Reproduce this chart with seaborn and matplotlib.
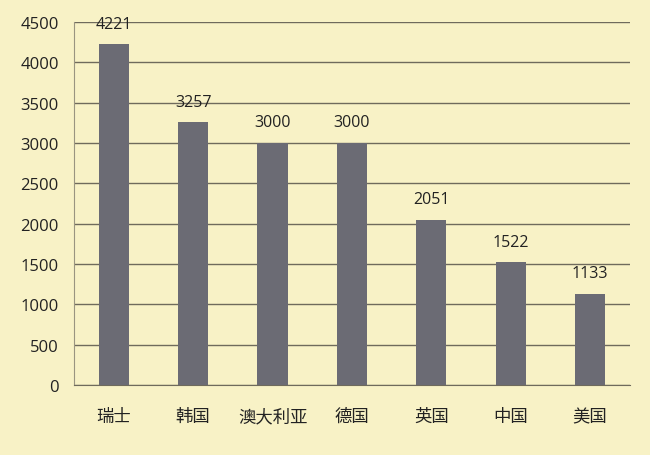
import numpy as np
import pandas as pd
import matplotlib
matplotlib.use("Agg")
import matplotlib.pyplot as plt
import seaborn as sns

countries = ["瑞士", "韩国", "澳大利亚", "德国", "英国", "中国", "美国"]
values = [4221, 3257, 3000, 3000, 2051, 1522, 1133]

bg = "#f8f2c6"
bar_color = "#6b6b74"
line_color = "#6f6b5c"

sns.set_style("white")
plt.rcParams['font.family'] = ['Noto Sans CJK SC', 'DejaVu Sans']

df = pd.DataFrame({"country": countries, "value": values})

fig = plt.figure(figsize=(6.5, 4.56), dpi=100, facecolor=bg)
ax = fig.add_axes([0.114, 0.1535, 0.855, 0.7961])
ax.set_facecolor(bg)

sns.barplot(data=df, x="country", y="value", color=bar_color, width=0.38,
            saturation=1, ax=ax, zorder=3)
for p in ax.patches:
    p.set_edgecolor("none")

# value labels above the bars
ax.bar_label(ax.containers[0], labels=[str(v) for v in values], padding=9,
             fontsize=11.5, color="#222222", family=['Open Sans', 'DejaVu Sans'])

ax.set_ylim(0, 4500)
ax.set_xlim(-0.5, 6.5)
ax.set_yticks(np.arange(0, 4501, 500))
ax.yaxis.grid(True, color=line_color, linewidth=1.0)
ax.set_axisbelow(True)

ax.set_xlabel("")
ax.set_ylabel("")
for s in ["top", "right"]:
    ax.spines[s].set_visible(False)
ax.spines["left"].set_color("#9a9580")
ax.spines["bottom"].set_color(line_color)

ax.tick_params(axis="y", length=5, color="#9a9580", labelsize=12,
               labelcolor="#222222", pad=6)
ax.tick_params(axis="x", which="major", length=0, labelsize=12.5,
               labelcolor="#222222", pad=16)
ax.set_xticks(np.arange(-0.5, 7, 1), minor=True)
ax.tick_params(axis="x", which="minor", length=6, color="#9a9580")
for lbl in ax.get_yticklabels():
    lbl.set_family(['Open Sans', 'DejaVu Sans'])

fig.savefig("out.png", dpi=100, facecolor=bg)
